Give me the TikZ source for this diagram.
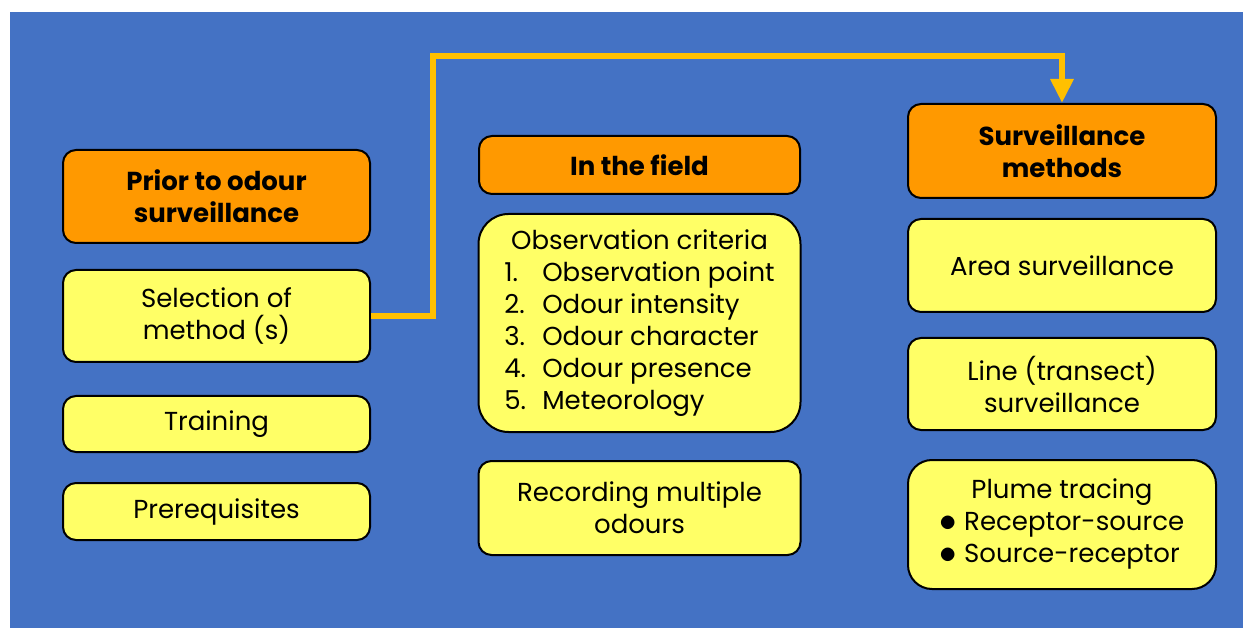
\documentclass[tikz,border=0pt]{standalone}
\usepackage{fontspec}
\setmainfont{Poppins}
\usetikzlibrary{arrows.meta, positioning}
\definecolor{slideblue}{HTML}{4472C4}
\definecolor{headorange}{HTML}{FF9900}
\definecolor{itemyellow}{HTML}{FFFF66}
\definecolor{arrowgold}{HTML}{FFC000}
\newcommand{\plumebullet}{\raisebox{-1pt}{\scalebox{1.4}{$\bullet$}}\hspace{7pt}}
\tikzset{
    headbox/.style={rectangle, rounded corners=13pt, draw=black, line width=2pt, fill=headorange, minimum width=307pt, text centered, align=center, font=\fontsize{26}{32}\selectfont\bfseries},
    itembox/.style={rectangle, rounded corners=13pt, draw=black, line width=2pt, fill=itemyellow, minimum width=307pt, text centered, align=center, font=\fontsize{26}{32}\selectfont},
    flowarr/.style={-{Triangle[length=24pt,width=22pt]}, line width=6pt, draw=arrowgold},
}

\begin{document}
\begin{tikzpicture}[x=1pt, y=-1pt]
\useasboundingbox (0,0) rectangle (1243,628);
% slide background
\fill[white] (0,0) rectangle (1243,628);
\fill[slideblue] (10,12) rectangle (1243,628);

% Left column - before surveillance
\node[headbox, minimum height=93pt] (prior) at (216.5,196.5) {Prior to odour\\surveillance};
\node[itembox, minimum height=92pt, below=25pt of prior] (select) {Selection of\\method (s)};
\node[itembox, minimum height=56pt, below=32pt of select] (train) {Training};
\node[itembox, minimum height=57pt, below=29pt of train] (prereq) {Prerequisites};

% Middle column - in the field
\node[headbox, minimum width=321pt, minimum height=58pt] (field) at (639.5,165) {In the field};
\node[itembox, minimum width=322pt, minimum height=218pt, rounded corners=30pt, below=18pt of field] (criteria) {%
  \begin{tabular}{@{}l@{}}
  \multicolumn{1}{c}{Observation criteria}\\
  \makebox[38pt][l]{1.}Observation point\\
  \makebox[38pt][l]{2.}Odour intensity\\
  \makebox[38pt][l]{3.}Odour character\\
  \makebox[38pt][l]{4.}Odour presence\\
  \makebox[38pt][l]{5.}Meteorology
  \end{tabular}};
\node[itembox, minimum width=322pt, minimum height=94pt, below=27pt of criteria] (record) {Recording multiple\\odours};

% Right column - surveillance methods
\node[headbox, minimum width=308pt, minimum height=94pt] (methods) at (1062,151) {Surveillance\\methods};
\node[itembox, minimum width=308pt, minimum height=93pt, below=19pt of methods] (area) {Area surveillance};
\node[itembox, minimum width=308pt, minimum height=92pt, below=24pt of area] (line) {Line (transect)\\surveillance};
\node[itembox, minimum width=308pt, minimum height=129pt, rounded corners=24pt, below=28pt of line] (plume) {%
  \begin{tabular}{@{}l@{}}
  \multicolumn{1}{c}{Plume tracing}\\
  \plumebullet Receptor-source\\
  \plumebullet Source-receptor
  \end{tabular}};

% Link from method selection to surveillance methods
\coordinate (bend) at (433,56);
\draw[flowarr] (select.east) -| (bend) -| (methods.north);
\end{tikzpicture}
\end{document}
